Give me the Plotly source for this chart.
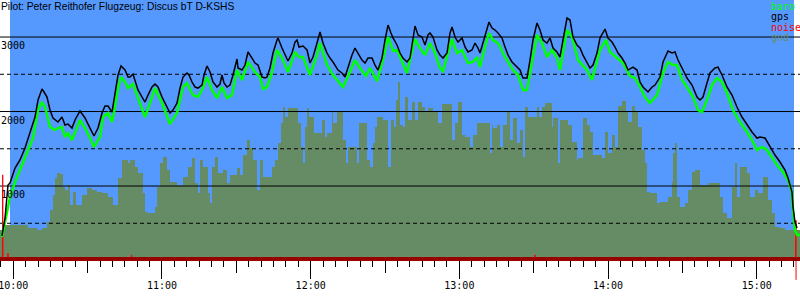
import pandas as pd
import plotly.graph_objects as go

# ---------------- data ----------------
BASE = pd.Timestamp("2000-01-01 10:00:00")   # 10:00 = minute 0

title_text = "Pilot: Peter Reithofer Flugzeug: Discus bT D-KSHS"
legend_names = ["baro", "gps", "noise", "gnd"]
hour_labels_fmt = "%H:%M"

# GPS altitude (minutes after 10:00, metres)
gps_min = [-4.56, -4.16, -3.35, -2.14, -1.33, 0.69, 2.70, 4.72, 6.74, 8.76, 9.97, 11.58, 12.39, 13.60,
           14.81, 16.02, 18.04, 19.65, 20.86, 22.07, 23.69, 24.90, 26.92, 28.94, 30.95, 32.57, 34.18,
           35.80, 37.01, 38.22, 39.83, 41.04, 42.25, 43.47, 45.08, 46.30, 47.09, 48.30, 49.11, 50.32,
           51.94, 53.15, 54.36, 55.97, 57.18, 58.40, 60.01, 61.22, 62.43, 63.24, 64.45, 66.06, 67.27,
           68.48, 70.10, 70.90, 72.11, 73.33, 74.54, 76.15, 76.96, 78.17, 79.38, 80.59, 82.20, 83.41,
           84.22, 85.03, 86.24, 87.45, 88.66, 90.27, 90.68, 92.29, 93.50, 94.71, 96.33, 97.54, 98.75,
           100.37, 101.58, 102.39, 103.59, 104.80, 106.42, 106.82, 108.43, 109.64, 110.85, 112.47,
           113.68, 114.49, 115.30, 116.91, 118.53, 119.73, 120.94, 122.56, 123.77, 124.98, 126.59,
           127.80, 129.01, 131.03, 132.64, 133.85, 135.07, 136.68, 137.89, 139.10, 140.72, 141.93,
           143.14, 144.75, 145.96, 147.17, 148.79, 150.00, 151.21, 152.42, 153.23, 154.84, 156.05,
           157.26, 158.88, 160.09, 161.30, 162.11, 163.32, 164.93, 166.14, 167.35, 168.16, 169.37,
           170.98, 172.20, 173.41, 175.02, 176.23, 177.04, 178.25, 179.46, 181.08, 182.29, 183.50,
           185.11, 186.32, 187.53, 188.34, 189.55, 191.16, 191.97, 193.18, 194.39, 195.60, 197.22,
           198.43, 199.64, 201.25, 202.46, 203.67, 204.48, 205.69, 207.30, 208.51, 209.72, 211.34,
           212.55, 213.76, 215.38, 216.59, 217.80, 219.41, 220.62, 221.83, 223.45, 224.66, 225.87,
           227.48, 228.69, 229.90, 231.52, 232.73, 233.94, 235.55, 236.76, 238.78, 239.99, 241.61,
           242.82, 244.03, 245.64, 246.85, 248.06, 250.08, 251.70, 252.91, 254.12, 256.14, 257.75,
           258.96, 260.98, 262.19, 264.21, 265.82, 267.03, 268.24, 269.86, 271.88, 273.89, 275.91,
           277.12, 278.33, 279.94, 281.15, 283.17, 284.38, 285.99, 288.01, 290.03, 292.04, 294.06,
           296.08, 298.10, 300.11, 301.33, 303.35, 305.37, 307.38, 309.40, 311.42, 312.63, 313.44,
           314.24, 314.65, 315.45, 316.26]
gps_alt = [330, 409, 570, 1013, 1040, 1242, 1349, 1510, 1725, 1926, 2154, 2302, 2262, 2195,
           2020, 1913, 1859, 1926, 1819, 1832, 1778, 1886, 2007, 1913, 1778, 1671, 1778,
           1980, 2074, 2074, 1993, 2221, 2490, 2611, 2557, 2463, 2463, 2503, 2423, 2289,
           2195, 2127, 2221, 2329, 2369, 2329, 2195, 2114, 2020, 1980, 2020, 2114, 2315,
           2463, 2517, 2490, 2396, 2329, 2315, 2355, 2490, 2611, 2530, 2396, 2329, 2369,
           2490, 2383, 2329, 2355, 2490, 2705, 2584, 2557, 2624, 2799, 2718, 2651, 2624,
           2463, 2450, 2463, 2584, 2785, 2960, 2987, 2852, 2758, 2678, 2785,
           2933, 2960, 2866, 2879, 2826, 2651, 2732, 2919, 3067, 2919, 2785,
           2718, 2665, 2557, 2517, 2463, 2597, 2758, 2852, 2785, 2691, 2651,
           2718, 2718, 2624, 2557, 2718, 2960, 3161, 3054, 2987, 2893, 2785,
           2718, 2665, 2718, 3000, 3148, 3027, 3000, 2893, 3027, 3054, 3000,
           2826, 2758, 2718, 2785, 3054, 3134, 3000, 2933, 2987, 2866, 2799,
           2826, 2919, 2852, 2785, 2919, 3094, 3201, 3121, 3094, 3054, 2987,
           2866, 2758, 2665, 2624, 2584, 2557, 2450, 2450, 2691, 2960, 3188,
           3094, 2960, 2919, 2987, 2852, 2799, 2732, 2960, 3255, 3228, 3000,
           2893, 2852, 2758, 2665, 2584, 2624, 2785, 2987, 3107, 2987, 2933,
           2866, 2785, 2718, 2651, 2557, 2597, 2557, 2396, 2329, 2262, 2329,
           2355, 2463, 2665, 2812, 2785, 2799, 2691, 2584, 2450, 2355, 2195,
           2154, 2195, 2383, 2517, 2584, 2597, 2490, 2329, 2221, 2060, 1926,
           1819, 1725, 1644, 1658, 1644, 1524, 1416, 1322, 1215, 1107, 1013,
           919, 718, 517, 436]

# Barometric altitude
baro_min = [-4.56, -1.33, 0.69, 4.72, 7.95, 9.97, 11.58, 12.79, 14.81, 16.83, 18.04, 19.65, 20.86,
            22.07, 23.69, 26.92, 28.94, 30.95, 32.57, 34.99, 36.20, 38.22, 39.83, 41.04, 42.25,
            43.47, 45.08, 46.30, 48.30, 50.32, 53.15, 55.17, 57.18, 60.01, 63.24, 66.06, 68.48,
            70.10, 72.52, 74.54, 76.15, 78.17, 80.19, 82.20, 84.22, 86.24, 88.26, 90.27, 92.29,
            94.71, 97.54, 99.56, 100.77, 102.39, 104.40, 106.42, 108.43, 110.85, 113.68, 115.30,
            116.91, 119.73, 122.56, 123.77, 126.59, 129.01, 133.04, 135.88, 137.89, 139.91, 142.33,
            143.95, 146.77, 149.19, 151.21, 153.23, 154.84, 158.88, 160.90, 162.11, 164.12, 166.14,
            168.16, 170.18, 172.20, 173.41, 175.43, 177.04, 179.06, 181.08, 183.50, 185.52, 187.13,
            188.34, 190.36, 191.97, 193.58, 195.60, 198.43, 201.66, 203.67, 205.69, 207.30, 208.51,
            211.34, 213.36, 215.38, 217.39, 219.41, 220.62, 223.45, 225.47, 227.89, 231.52, 233.54,
            236.76, 239.18, 240.80, 243.62, 246.04, 248.87, 250.89, 252.91, 254.93, 256.94, 258.96,
            259.77, 262.19, 264.21, 266.22, 267.84, 269.86, 271.88, 274.29, 276.31, 277.93, 279.94,
            281.96, 283.98, 285.99, 288.01, 290.43, 293.26, 296.08, 298.10, 300.11, 302.14, 304.16,
            306.18, 308.19, 310.61, 312.63, 314.24, 314.65, 315.45, 316.26, 317.47]
baro_alt = [316, 852, 1054, 1389, 1644, 2020, 2127, 2060, 1792, 1752, 1778, 1792, 1658,
            1711, 1617, 1886, 1778, 1644, 1524, 1658, 1926, 1980, 1859, 2060, 2315,
            2463, 2396, 2315, 2369, 2181, 1926, 2114, 2315, 2114, 1832, 1980, 2329,
            2383, 2221, 2195, 2289, 2463, 2289, 2181, 2329, 2181, 2221, 2557, 2423,
            2665, 2530, 2463, 2302, 2329, 2530, 2826, 2718, 2530, 2799, 2732,
            2732, 2490, 2758, 2919, 2624, 2490, 2329, 2530, 2691, 2584, 2477,
            2584, 2409, 2691, 3000, 2812, 2826, 2517, 2826, 2973, 2852, 2758,
            2919, 2785, 2584, 2544, 2785, 2973, 2785, 2826, 2651, 2665, 2732,
            2597, 2866, 3054, 2960, 2919, 2732, 2557, 2490, 2289, 2289, 2517,
            3027, 2919, 2732, 2826, 2718, 2557, 3094, 3000, 2691, 2557, 2423,
            2826, 2960, 2799, 2718, 2651, 2477, 2450, 2329, 2195, 2114, 2195,
            2221, 2517, 2665, 2624, 2624, 2423, 2329, 2195, 2020, 1993, 2154,
            2355, 2450, 2396, 2248, 2020, 1859, 1725, 1617, 1483, 1524, 1483,
            1389, 1282, 1188, 1081, 919, 678, 409, 342, 342]

# Ground elevation under the glider (step profile)
gnd_min = [-5.37, -4.16, 5.93, 9.56, 11.58, 13.60, 14.81, 16.02, 16.83, 17.64, 18.85, 20.06, 20.86,
           22.07, 22.88, 24.09, 25.30, 27.72, 29.74, 31.76, 33.78, 35.80, 38.22, 40.23, 42.25, 43.87,
           46.30, 47.09, 49.11, 50.32, 52.34, 53.15, 54.36, 57.18, 57.99, 59.20, 60.41, 62.03, 63.24,
           66.06, 68.48, 70.50, 72.11, 73.33, 74.54, 75.34, 76.55, 78.57, 79.38, 80.19, 81.40, 82.61,
           84.62, 86.24, 87.45, 90.27, 91.49, 92.70, 94.31, 95.52, 96.73, 98.35, 99.56, 100.77,
           104.40, 105.61, 106.82, 108.03, 108.84, 109.64, 110.85, 114.89, 116.10, 116.91, 117.72,
           118.53, 119.33, 121.35, 124.58, 125.79, 126.59, 128.61, 129.01, 130.63, 133.05, 134.26,
           135.07, 138.70, 139.51, 142.74, 143.95, 145.16, 145.96, 146.77, 149.19, 151.21, 152.42,
           153.63, 154.44, 155.25, 156.05, 157.26, 158.07, 159.28, 160.90, 162.11, 163.32, 164.93,
           166.14, 167.35, 169.37, 171.39, 173.00, 177.04, 178.25, 179.46, 181.08, 182.29, 184.30,
           185.52, 187.13, 192.37, 193.18, 193.58, 195.20, 196.41, 197.62, 199.23, 200.44, 201.65,
           203.27, 204.48, 205.69, 206.50, 207.71, 211.34, 212.15, 213.36, 214.57, 217.39, 217.80,
           219.81, 220.62, 223.85, 225.47, 227.48, 227.89, 229.90, 231.52, 232.73, 233.94, 237.57,
           238.78, 239.99, 241.61, 242.82, 244.03, 245.64, 247.26, 248.06, 249.68, 250.89, 252.10,
           253.71, 254.93, 255.73, 256.94, 259.77, 260.98, 264.21, 265.82, 266.22, 267.03, 267.84,
           269.05, 271.07, 272.28, 273.89, 275.10, 277.12, 280.35, 285.19, 286.40, 288.01, 290.03,
           291.24, 292.04, 293.26, 296.08, 297.30, 299.31, 300.52, 302.54, 304.56, 306.18, 307.38,
           309.40, 311.42, 317.47]
gnd_alt = [409, 476, 436, 409, 436, 517, 678, 879, 1107, 1175, 1161, 987, 946,
           1013, 745, 919, 745, 879, 973, 946, 919, 906, 852, 745, 1107, 1349,
           1309, 1349, 1255, 1175, 906, 651, 638, 718, 987, 1309, 1389, 1215, 1054,
           1013, 1121, 1255, 1376, 1040, 906, 1349, 1255, 906, 772, 1255, 1389, 1175,
           1215, 1040, 1148, 1242, 1148, 1416, 1617, 1510, 1349, 946, 1349, 1121,
           1255, 1349, 1577, 1846, 2060, 1926, 2047, 1846, 1524, 1309, 1792,
           2047, 1926, 1711, 1886, 1658, 1711, 2013, 1846, 1993, 1617, 1309,
           1524, 1309, 1846, 1349, 1255, 1577, 1792, 1926, 1886, 1255, 1886,
           1792, 2154, 2396, 1819, 1792, 2195, 1886, 2127, 1886, 2127, 2060,
           1993, 2047, 1993, 1846, 2101, 1617, 1846, 2127, 1685, 1658, 1524,
           1685, 1846, 1443, 1819, 1778, 1819, 1524, 1819, 1993, 1617, 1913,
           1577, 1752, 1389, 2060, 1926, 2060, 1926, 2060, 2114, 1792, 1913,
           1309, 1886, 1819, 1591, 1349, 1376, 1913, 1819, 1725, 1416, 1376,
           1725, 1443, 1685, 1524, 2074, 2141, 1993, 1859, 2074, 1993, 1792,
           1483, 1309, 919, 906, 772, 785, 852, 1054, 1443, 1577, 852,
           718, 772, 946, 1188, 1215, 1013, 1040, 852, 638, 570, 987,
           1309, 852, 1255, 1175, 852, 946, 906, 1121, 812, 638, 450,
           436, 409, 409]

# Noise level (ENL-like), mostly zero
noise_min = [-5.37, -4.40, -4.28, -4.16, -2.30, -2.14, -1.98, 47.50, 47.70, 47.90,
             210.30, 210.50, 210.70, 315.70, 315.86, 315.87]
noise_val = [0, 0, 1150, 0, 0, 100, 0, 0, 75, 0,
             0, 75, 0, 0, 540, -260]

solid_levels = [1000, 2000, 3000]
dashed_levels = [500, 1500, 2500]
alt_labels = ["1000", "2000", "3000"]

x_first_min, x_last_min = -5.37, 317.47
y_range = [-530, 3497]
sky_from_min, sky_to_min = -1.33, 315.05

# ---------------- style ----------------
SKY = "#5599ff"
GND = "#668c66"
BARO = "#00ff00"
GPS = "#000000"
NOISE = "#ff0000"
AXIS_RED = "#990000"
MONO = "DejaVu Sans Mono"


def tt(mins):
    return BASE + pd.to_timedelta(mins, unit="min")


x0, x1 = tt(x_first_min), tt(x_last_min)

fig = go.Figure()

# ground
fig.add_trace(go.Scatter(x=tt(gnd_min), y=gnd_alt, mode="lines", line=dict(width=0, shape="hv"),
                         fill="tozeroy", fillcolor=GND, hoverinfo="skip"))

# grid lines drawn over the ground
gx, gy = [], []
for v in solid_levels:
    gx += [x0, x1, None]
    gy += [v, v, None]
fig.add_trace(go.Scatter(x=gx, y=gy, mode="lines", line=dict(color="black", width=1)))
dx, dy = [], []
for v in dashed_levels:
    dx += [x0, x1, None]
    dy += [v, v, None]
fig.add_trace(go.Scatter(x=dx, y=dy, mode="lines", line=dict(color="black", width=1, dash="4px,3px")))

fig.add_trace(go.Scatter(x=tt(noise_min), y=noise_val, mode="lines", line=dict(color=NOISE, width=1)))
fig.add_trace(go.Scatter(x=tt(baro_min), y=baro_alt, mode="lines", line=dict(color=BARO, width=2.5)))
fig.add_trace(go.Scatter(x=tt(gps_min), y=gps_alt, mode="lines", line=dict(color=GPS, width=1.5)))

# sky background
fig.add_shape(type="rect", xref="x", yref="y", x0=tt(sky_from_min), x1=tt(sky_to_min),
              y0=0, y1=y_range[1], fillcolor=SKY, line_width=0, layer="below")

AXIS_POS = 41 / 300
fig.update_layout(
    width=800, height=300, margin=dict(l=0, r=0, t=0, b=0),
    paper_bgcolor="white", plot_bgcolor="white", showlegend=False,
    xaxis=dict(type="date", range=[x0, x1], anchor="free", position=AXIS_POS,
               showgrid=False, zeroline=False, showline=True, linecolor=AXIS_RED, linewidth=4,
               tick0=BASE, dtick=3600000, tickformat=hour_labels_fmt, ticks="outside",
               ticklen=18, tickcolor="black", tickwidth=1, ticklabeloverflow="allow",
               ticklabelstandoff=-2,
               tickfont=dict(family=MONO, size=10, color="black"),
               minor=dict(dtick=300000, ticklen=6, tickcolor="black", tickwidth=1, ticks="outside",
                          showgrid=False),
               automargin=False),
    xaxis2=dict(type="date", overlaying="x", matches="x", anchor="free", position=AXIS_POS,
                showgrid=False, zeroline=False, showline=True, linecolor=AXIS_RED, linewidth=4,
                tick0=BASE + pd.Timedelta(minutes=30), dtick=3600000, ticks="outside",
                ticklen=12, tickcolor="black", tickwidth=1, showticklabels=False, automargin=False),
    yaxis=dict(range=y_range, visible=False, showgrid=False, zeroline=False),
)
# dummy trace to activate xaxis2
fig.add_trace(go.Scatter(x=[x0, x1], y=[None, None], xaxis="x2", mode="lines", hoverinfo="skip"))

# altitude labels
for v, lab in zip(solid_levels, alt_labels):
    fig.add_annotation(x=0, xref="paper", xanchor="left", y=v, yref="y", yanchor="top",
                       text=lab, showarrow=False, font=dict(family=MONO, size=10, color="black"),
                       borderpad=0, yshift=-2)

# title
fig.add_annotation(x=0, xref="paper", xanchor="left", y=1, yref="paper", yanchor="top",
                   text=title_text, showarrow=False, borderpad=0,
                   font=dict(family="Liberation Sans", size=10.3, color="black"))

# legend as text
leg_colors = [BARO, GPS, NOISE, GND]
for i, (name, col) in enumerate(zip(legend_names, leg_colors)):
    fig.add_annotation(x=770 / 800, xref="paper", xanchor="left", y=1 - (0 + 10.4 * i) / 300,
                       yref="paper", yanchor="top", text=name, showarrow=False, borderpad=0,
                       font=dict(family=MONO, size=10, color=col))

fig.write_html("out.html")
